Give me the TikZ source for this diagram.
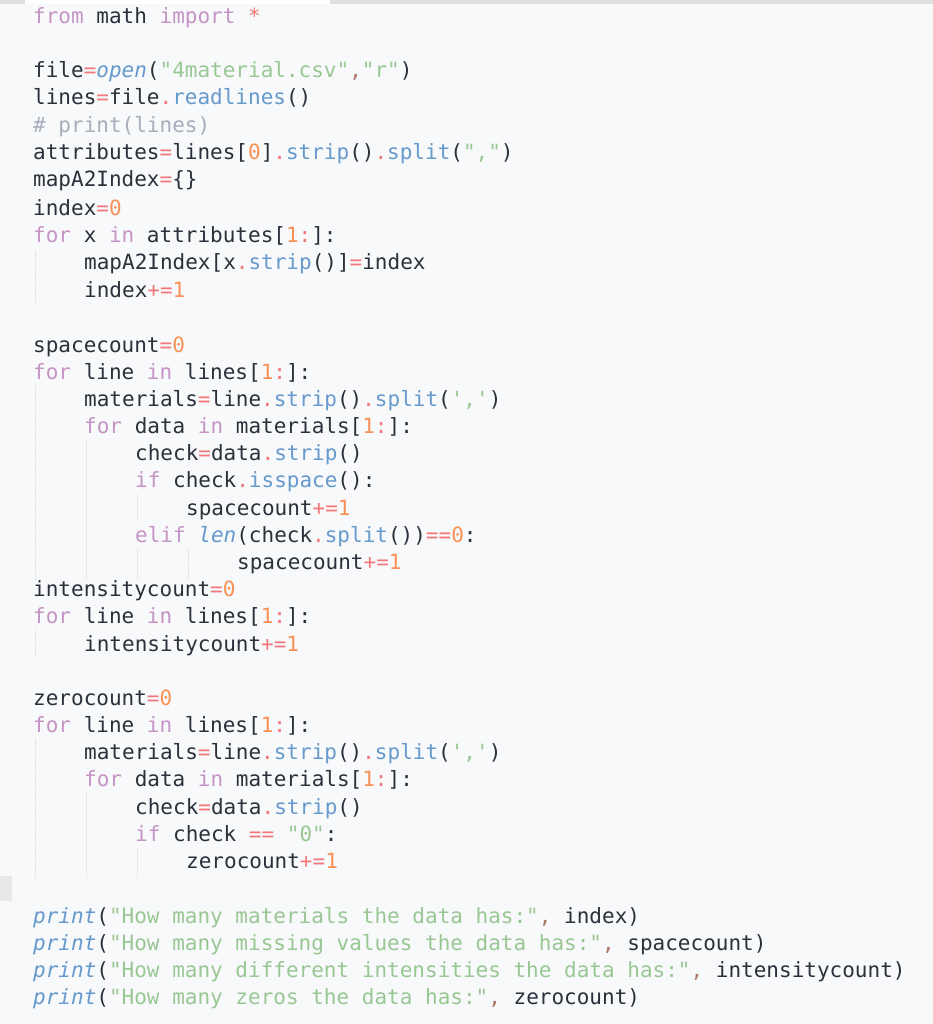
\documentclass[tikz,border=0pt]{standalone}
\usepackage{fontspec}
\newfontfamily\code{DejaVu Sans Mono}
\definecolor{bg}{HTML}{F8F9FA}
\definecolor{tx}{HTML}{2B303B}
\definecolor{kwc}{HTML}{C594C5}
\definecolor{opc}{HTML}{F2777A}
\definecolor{nmc}{HTML}{F99157}
\definecolor{fnc}{HTML}{6699CC}
\definecolor{stc}{HTML}{99C794}
\definecolor{cmc}{HTML}{A7ADBA}
\definecolor{pnc}{HTML}{AB7967}
\definecolor{guide}{HTML}{D8DBDE}
\newcommand\kw[1]{\textcolor{kwc}{#1}}
\newcommand\op[1]{\textcolor{opc}{#1}}
\newcommand\nm[1]{\textcolor{nmc}{#1}}
\newcommand\fn[1]{\textcolor{fnc}{#1}}
\newcommand\bi[1]{\textcolor{fnc}{\itshape #1}}
\newcommand\st[1]{\textcolor{stc}{#1}}
\newcommand\pn[1]{\textcolor{pnc}{#1}}
\newcommand\cmt[1]{\textcolor{cmc}{#1}}
\tikzset{codeline/.style={anchor=base west,inner sep=0pt,font=\code\fontsize{21}{24}\selectfont,text=tx},
 guideline/.style={draw=guide,line width=0.8pt,densely dotted}}
\begin{document}
\begin{tikzpicture}[x=1pt,y=-1pt]
\fill[bg] (0,0) rectangle (933,1024);
\fill[gray!25] (0,0) rectangle (933,4);
\fill[white] (25,0) rectangle (330,4);
\fill[gray!18] (0,876) rectangle (12,901);
% indent guides
\foreach \xa/\ya/\yb in {35/250/303, 35/385/580, 35/630/657, 35/738/878, 86/440/580, 86/792/878, 137/495/520, 137/548/580, 137/848/878, 188/548/580}
  \draw[guideline] (\xa,\ya) -- (\xa,\yb);
\def\Y{7}
\node[codeline] (l1) at (33,17+\Y) {\kw{from} math \kw{import} \op{*}};
\node[codeline] (l3) at (33,71+\Y) {file\op{=}\bi{open}(\st{"4material.csv"}\pn{,}\st{"r"})};
\node[codeline] (l4) at (33,98+\Y) {lines\op{=}file\op{.}\fn{readlines}()};
\node[codeline] (l5) at (33,126+\Y) {\cmt{\# print(lines)}};
\node[codeline] (l6) at (33,153+\Y) {attributes\op{=}lines[\nm{0}]\op{.}\fn{strip}()\op{.}\fn{split}(\st{","})};
\node[codeline] (l7) at (33,180+\Y) {mapA2Index\op{=}\{\}};
\node[codeline] (l8) at (33,208+\Y) {index\op{=}\nm{0}};
\node[codeline] (l9) at (33,235+\Y) {\kw{for} x \kw{in} attributes[\nm{1}\op{:}]:};
\node[codeline] (l10) at (84,262+\Y) {mapA2Index[x\op{.}\fn{strip}()]\op{=}index};
\node[codeline] (l11) at (84,290+\Y) {index\op{+=}\nm{1}};
\node[codeline] (l13) at (33,345+\Y) {spacecount\op{=}\nm{0}};
\node[codeline] (l14) at (33,372+\Y) {\kw{for} line \kw{in} lines[\nm{1}\op{:}]:};
\node[codeline] (l15) at (84,399+\Y) {materials\op{=}line\op{.}\fn{strip}()\op{.}\fn{split}(\st{','})};
\node[codeline] (l16) at (84,426+\Y) {\kw{for} data \kw{in} materials[\nm{1}\op{:}]:};
\node[codeline] (l17) at (135,453+\Y) {check\op{=}data\op{.}\fn{strip}()};
\node[codeline] (l18) at (135,480+\Y) {\kw{if} check\op{.}\fn{isspace}():};
\node[codeline] (l19) at (186,508+\Y) {spacecount\op{+=}\nm{1}};
\node[codeline] (l20) at (135,535+\Y) {\kw{elif} \bi{len}(check\op{.}\fn{split}())\op{==}\nm{0}:};
\node[codeline] (l21) at (237,562+\Y) {spacecount\op{+=}\nm{1}};
\node[codeline] (l22) at (33,589+\Y) {intensitycount\op{=}\nm{0}};
\node[codeline] (l23) at (33,616+\Y) {\kw{for} line \kw{in} lines[\nm{1}\op{:}]:};
\node[codeline] (l24) at (84,644+\Y) {intensitycount\op{+=}\nm{1}};
\node[codeline] (l26) at (33,698+\Y) {zerocount\op{=}\nm{0}};
\node[codeline] (l27) at (33,725+\Y) {\kw{for} line \kw{in} lines[\nm{1}\op{:}]:};
\node[codeline] (l28) at (84,752+\Y) {materials\op{=}line\op{.}\fn{strip}()\op{.}\fn{split}(\st{','})};
\node[codeline] (l29) at (84,779+\Y) {\kw{for} data \kw{in} materials[\nm{1}\op{:}]:};
\node[codeline] (l30) at (135,807+\Y) {check\op{=}data\op{.}\fn{strip}()};
\node[codeline] (l31) at (135,834+\Y) {\kw{if} check \op{==} \st{"0"}:};
\node[codeline] (l32) at (186,861+\Y) {zerocount\op{+=}\nm{1}};
\node[codeline] (l34) at (33,916+\Y) {\bi{print}(\st{"How many materials the data has:"}\pn{,} index)};
\node[codeline] (l35) at (33,943+\Y) {\bi{print}(\st{"How many missing values the data has:"}\pn{,} spacecount)};
\node[codeline] (l36) at (33,970+\Y) {\bi{print}(\st{"How many different intensities the data has:"}\pn{,} intensitycount)};
\node[codeline] (l37) at (33,997+\Y) {\bi{print}(\st{"How many zeros the data has:"}\pn{,} zerocount)};
\end{tikzpicture}
\end{document}
